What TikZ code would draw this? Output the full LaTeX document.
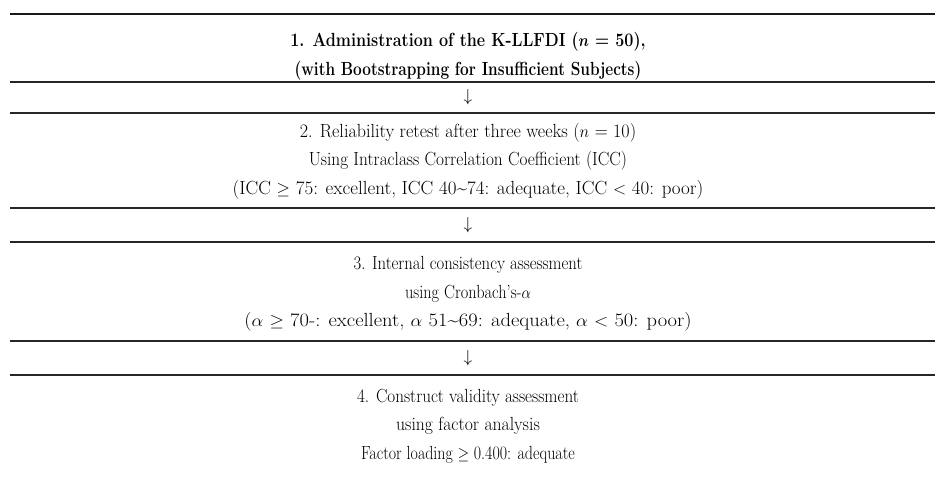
\documentclass[tikz,border=0pt]{standalone}
\usepackage{graphicx}
\newcommand{\sq}[2]{\scalebox{#1}[1]{#2}}
\tikzset{
  cell/.style={align=center, inner sep=0pt, font=\fontsize{19}{28.5}\selectfont},
  rulethin/.style={line width=1.4pt, draw=black!85},
  rulethick/.style={line width=2.4pt, draw=black!90},
}
\begin{document}
\begin{tikzpicture}[x=1pt,y=-1pt]
\useasboundingbox (0,0) rectangle (935,499);
% rules
\draw[rulethick] (10,14) -- (935,14);
\foreach \yy in {82,113,208,242,341,375}{
  \draw[rulethin] (10,\yy) -- (935,\yy);
}
% rows
\node[cell] (r1) at (468,56.5) {\sq{0.85}{\bfseries 1. Administration of the K-LLFDI (\boldmath$n$ = 50),}\\
  \sq{0.81}{\bfseries (with Bootstrapping for Insufficient Subjects)}};
\node[cell] (a1) at (468,97.5) {$\downarrow$};
\node[cell] (r2) at (468,161) {\sq{0.95}{2. Reliability retest after three weeks ($n$ = 10)}\\
  \sq{0.91}{Using Intraclass Correlation Coefficient (ICC)}\\
  \sq{1.0}{(ICC $\geq$ 75: excellent, ICC 40\textasciitilde74: adequate, ICC $<$ 40: poor)}};
\node[cell] (a2) at (468,225) {$\downarrow$};
\node[cell] (r3) at (468,294) {\sq{0.88}{3. Internal consistency assessment}\\
  \sq{0.86}{using Cronbach’s-$\alpha$}\\
  \sq{1.08}{($\alpha$ $\geq$ 70-: excellent, $\alpha$ 51\textasciitilde69: adequate, $\alpha$ $<$ 50: poor)}};
\node[cell] (a3) at (468,358) {$\downarrow$};
\node[cell] (r4) at (468,426) {\sq{0.9}{4. Construct validity assessment}\\
  \sq{0.93}{using factor analysis}\\
  \sq{0.84}{Factor loading $\geq$ 0.400: adequate}};
\end{tikzpicture}
\end{document}
